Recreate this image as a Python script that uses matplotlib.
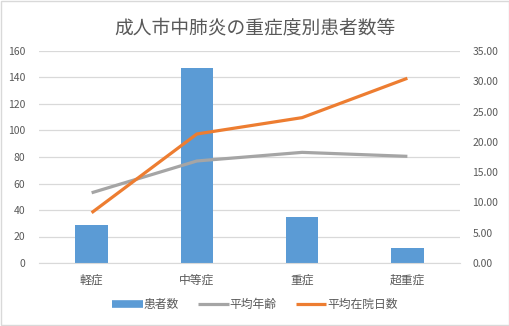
import numpy as np
import matplotlib.pyplot as plt
from matplotlib.lines import Line2D
from matplotlib.patches import Rectangle

plt.rcParams['font.family'] = ['Noto Sans CJK JP', 'DejaVu Sans']

categories = ['軽症', '中等症', '重症', '超重症']
patients = [29, 147, 35, 11]
avg_age = [53, 77, 83.5, 80.5]
avg_stay = [8.3, 21.3, 24.0, 30.5]

blue = '#5b9bd5'
gray = '#a5a5a5'
orange = '#ed7d31'
text_c = '#595959'
grid_c = '#d9d9d9'

fig = plt.figure(figsize=(5.1, 3.26), dpi=100)
fig.patches.append(Rectangle((0.001, 0.002), 0.997, 0.995, transform=fig.transFigure,
                             fill=False, edgecolor='#d9d9d9', linewidth=1))
ax = fig.add_axes([39 / 510, 1 - 263 / 326, 421 / 510, 212 / 326])
x = np.arange(len(categories))

ax.bar(x, patients, width=0.31, color=blue, zorder=2)
ax.plot(x, avg_age, color=gray, lw=2.3, zorder=3, solid_capstyle='butt')
ax.set_xlim(-0.5, 3.5)
ax.set_ylim(0, 160)
ax.set_yticks(range(0, 161, 20))
ax.grid(axis='y', color=grid_c, lw=0.9, zorder=0)
ax.set_xticks(x, categories)

ax2 = ax.twinx()
ax2.plot(x, avg_stay, color=orange, lw=2.3, zorder=4, solid_capstyle='butt')
ax2.set_ylim(0, 35)
ax2.set_yticks(np.arange(0, 35.1, 5))
ax2.set_yticklabels([f'{v:.2f}' for v in np.arange(0, 35.1, 5)])

for a in (ax, ax2):
    for s in a.spines.values():
        s.set_visible(False)
    a.tick_params(length=0, labelsize=7.5, colors=text_c)
ax.spines['bottom'].set_visible(True)
ax.spines['bottom'].set_color(grid_c)
ax.tick_params(axis='x', pad=8, labelsize=8.5)
ax.tick_params(axis='y', pad=10)
ax2.tick_params(axis='y', pad=9)

fig.text(0.5, 0.915, '成人市中肺炎の重症度別患者数等', ha='center', va='center',
         fontsize=13.5, color=text_c)

handles = [Line2D([], [], color=blue, lw=5.5, solid_capstyle='butt'),
           Line2D([], [], color=gray, lw=2.3, solid_capstyle='butt'),
           Line2D([], [], color=orange, lw=2.3, solid_capstyle='butt')]
fig.legend(handles, ['患者数', '平均年齢', '平均在院日数'], loc='center',
           bbox_to_anchor=(0.5, 0.065), ncol=3, frameon=False, fontsize=8.5,
           handlelength=2.6, handletextpad=0.1, columnspacing=1.6, labelcolor=text_c)

fig.savefig('out.png', dpi=100)
